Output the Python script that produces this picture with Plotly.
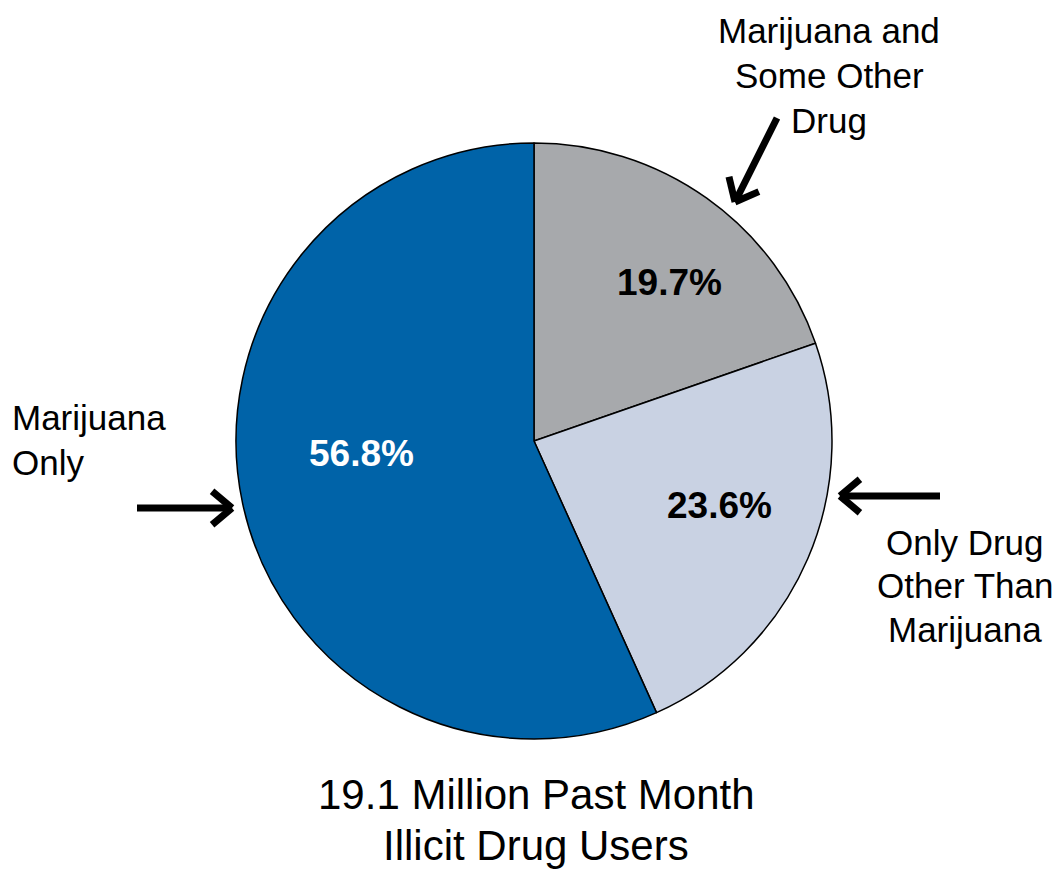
import math
import plotly.graph_objects as go

W, H = 1060, 871

# Past-month illicit drug users by drug type (percent)
categories = ["Marijuana and Some Other Drug", "Only Drug Other Than Marijuana", "Marijuana Only"]
values = [19.7, 23.6, 56.8]
colors = ["#A7A9AC", "#C9D2E3", "#0063A8"]
value_text_colors = ["black", "black", "white"]
total_label = ["19.1 Million Past Month", "Illicit Drug Users"]

# pie geometry in pixels
cx, cy, R = 534, 441, 298
FONT = "Liberation Sans, Arial"


def px(x, y):
    return x / W, 1 - y / H


fig = go.Figure(go.Pie(
    labels=categories,
    values=values,
    sort=False,
    direction="clockwise",
    rotation=0,
    marker=dict(colors=colors, line=dict(color="black", width=1.5)),
    textinfo="none",
    hoverinfo="label+value",
    showlegend=False,
    domain=dict(x=[(cx - R) / W, (cx + R) / W],
                y=[(H - cy - R) / H, (H - cy + R) / H]),
))

annotations = []
# percentage labels placed inside each slice, derived from the slice values
radial = [0.70, 0.66, 0.58]
offsets = [5, -4, 8]
cum = 0
tot = sum(values)
for v, c, r, off in zip(values, value_text_colors, radial, offsets):
    mid = (cum + v / 2) / tot * 360 + off
    cum += v
    a = math.radians(mid)
    x = cx + r * R * math.sin(a)
    y = cy - r * R * math.cos(a)
    xp, yp = px(x, y)
    annotations.append(dict(
        x=xp, y=yp, xref="paper", yref="paper", showarrow=False,
        text=f"<b>{v:.1f}%</b>", font=dict(size=37, color=c, family=FONT),
        xanchor="center", yanchor="middle"))


def text_block(lines, x, y0, step, anchor, size):
    for i, line in enumerate(lines):
        xp, yp = px(x, y0 + i * step)
        annotations.append(dict(
            x=xp, y=yp, xref="paper", yref="paper", showarrow=False,
            text=line, xanchor=anchor, yanchor="middle",
            font=dict(size=size, color="black", family=FONT)))


text_block(["Marijuana and", "Some Other", "Drug"], 829, 31, 45, "center", 35)
text_block(["Marijuana", "Only"], 10, 417, 45, "left", 35)
text_block(["Only Drug", "Other Than", "Marijuana"], 965, 542, 43.5, "center", 35)

# caption under the pie; last line sits on the bottom edge of the figure
xp, yp = px(536, 794)
annotations.append(dict(
    x=xp, y=yp, xref="paper", yref="paper", showarrow=False,
    text=total_label[0], xanchor="center", yanchor="middle",
    font=dict(size=42, color="black", family=FONT)))
annotations.append(dict(
    x=xp, y=0, xref="paper", yref="paper", showarrow=False,
    text=total_label[1], xanchor="center", yanchor="bottom",
    font=dict(size=42, color="black", family=FONT)))

# pointer arrows: shaft plus open chevron head
shapes = []


def arrow(x0, y0, x1, y1, head=26, spread=40):
    ang = math.atan2(y1 - y0, x1 - x0)
    pts = [(x0, y0, x1, y1)]
    for s in (-1, 1):
        b = ang + math.pi + s * math.radians(spread)
        pts.append((x1, y1, x1 + head * math.cos(b), y1 + head * math.sin(b)))
    for a0, b0, a1, b1 in pts:
        p0 = px(a0, b0)
        p1 = px(a1, b1)
        shapes.append(dict(type="line", xref="paper", yref="paper",
                           x0=p0[0], y0=p0[1], x1=p1[0], y1=p1[1],
                           line=dict(color="black", width=7)))


arrow(777, 118, 735, 202)
arrow(137, 508, 232, 508)
arrow(940, 496, 840, 496)

fig.update_layout(
    width=W, height=H,
    margin=dict(l=0, r=0, t=0, b=0),
    paper_bgcolor="white",
    plot_bgcolor="white",
    annotations=annotations,
    shapes=shapes,
)

fig.write_html("out.html")
